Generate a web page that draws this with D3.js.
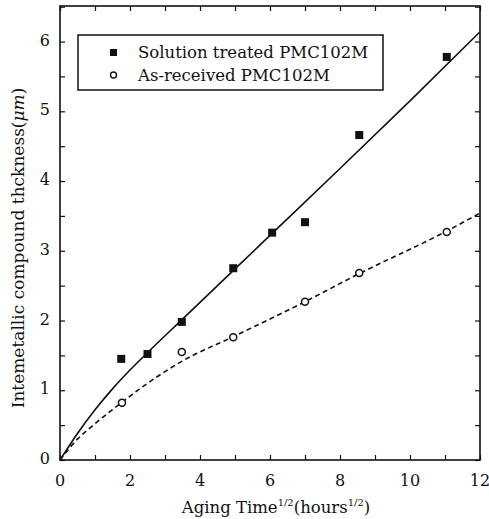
<!doctype html>
<html lang="en">
<head>
  <meta charset="utf-8">
  <title>Intermetallic compound thickness vs aging time</title>
  <style>
    html, body { margin: 0; padding: 0; background: white; }
    svg text { font-family: 'DejaVu Serif', serif; }
  </style>
</head>
<body>
  <div id="chart"></div>
  <script src="https://d3js.org/d3.v7.min.js"></script>
  <script>
    // measured points, x = sqrt(aging time in hours)
    const solutionX = [1.75, 2.5, 3.48, 4.95, 6.06, 7.0, 8.55, 11.05];
    const solutionY = [1.45, 1.52, 1.98, 2.75, 3.26, 3.41, 4.66, 5.78];
    const receivedX = [1.77, 3.48, 4.95, 7.0, 8.55, 11.05];
    const receivedY = [0.82, 1.55, 1.76, 2.27, 2.68, 3.27];

    // fitted curves
    const solutionFitX = [0, 0.5, 1, 1.5, 2, 2.5, 3.5, 5, 6, 8, 10, 12];
    const solutionFitY = [0, 0.38, 0.72, 1.02, 1.29, 1.54, 2.02, 2.74, 3.22, 4.18, 5.15, 6.14];
    const receivedFitX = [0, 0.5, 1, 1.75, 2.5, 3.5, 5, 7, 8.5, 11, 12];
    const receivedFitY = [0, 0.3, 0.52, 0.82, 1.1, 1.42, 1.78, 2.27, 2.66, 3.27, 3.54];

    const xTicks = [0, 2, 4, 6, 8, 10, 12];
    const yTicks = [0, 1, 2, 3, 4, 5, 6];
    const legendLabels = ["Solution treated PMC102M", "As-received PMC102M"];

    const width = 489, height = 519;
    const margin = { top: 6, right: 9, bottom: 59, left: 60 };

    const svg = d3.select("#chart").append("svg")
      .attr("width", width)
      .attr("height", height);

    const x = d3.scaleLinear().domain([0, 12]).range([margin.left, width - margin.right]);
    const y = d3.scaleLinear().domain([0, 6.51]).range([height - margin.bottom, margin.top]);

    const x0 = margin.left, x1 = width - margin.right;
    const y0 = height - margin.bottom, y1 = margin.top;

    // ticks on all four sides, pointing inward
    const minorX = d3.range(0, 12.01, 1);
    const minorY = d3.range(0, 6.51, 0.5);

    const bottomAxis = svg.append("g").attr("transform", `translate(0,${y0})`)
      .call(d3.axisTop(x).tickValues(minorX).tickSize(5).tickFormat(""));
    const topAxis = svg.append("g").attr("transform", `translate(0,${y1})`)
      .call(d3.axisBottom(x).tickValues(minorX).tickSize(5).tickFormat(""));
    const leftAxis = svg.append("g").attr("transform", `translate(${x0},0)`)
      .call(d3.axisRight(y).tickValues(minorY).tickSize(5).tickFormat(""));
    const rightAxis = svg.append("g").attr("transform", `translate(${x1},0)`)
      .call(d3.axisLeft(y).tickValues(minorY).tickSize(5).tickFormat(""));
    [bottomAxis, topAxis, leftAxis, rightAxis].forEach(g => {
      g.select(".domain").remove();
      g.selectAll("line").attr("stroke", "#111").attr("stroke-width", 1.2);
    });

    // tick labels
    svg.append("g").selectAll("text").data(xTicks).join("text")
      .attr("x", d => x(d))
      .attr("y", y0 + 26)
      .attr("text-anchor", "middle")
      .attr("font-size", 16)
      .attr("fill", "#111")
      .text(d => d);
    svg.append("g").selectAll("text").data(yTicks).join("text")
      .attr("x", x0 - 10)
      .attr("y", d => y(d) + 4)
      .attr("text-anchor", "end")
      .attr("font-size", 16)
      .attr("fill", "#111")
      .text(d => d);

    // frame
    svg.append("rect")
      .attr("x", x0).attr("y", y1)
      .attr("width", x1 - x0).attr("height", y0 - y1)
      .attr("fill", "none").attr("stroke", "#111").attr("stroke-width", 1.6);

    // fit curves
    const line = d3.line().x(d => x(d[0])).y(d => y(d[1])).curve(d3.curveMonotoneX);
    svg.append("path")
      .datum(d3.zip(solutionFitX, solutionFitY))
      .attr("d", line)
      .attr("fill", "none").attr("stroke", "#111").attr("stroke-width", 1.6);
    svg.append("path")
      .datum(d3.zip(receivedFitX, receivedFitY))
      .attr("d", line)
      .attr("fill", "none").attr("stroke", "#111").attr("stroke-width", 1.6)
      .attr("stroke-dasharray", "5,3.5");

    // markers
    svg.append("g").selectAll("rect").data(d3.zip(solutionX, solutionY)).join("rect")
      .attr("x", d => x(d[0]) - 4).attr("y", d => y(d[1]) - 4)
      .attr("width", 8).attr("height", 8)
      .attr("fill", "#111");
    svg.append("g").selectAll("circle").data(d3.zip(receivedX, receivedY)).join("circle")
      .attr("cx", d => x(d[0])).attr("cy", d => y(d[1]))
      .attr("r", 3.5)
      .attr("fill", "white").attr("stroke", "#111").attr("stroke-width", 1.5);

    // legend
    const legend = svg.append("g");
    legend.append("rect")
      .attr("x", 78).attr("y", 35).attr("width", 305).attr("height", 55)
      .attr("fill", "white").attr("stroke", "#111").attr("stroke-width", 1.5);
    legend.append("rect").attr("x", 110).attr("y", 49).attr("width", 7).attr("height", 7).attr("fill", "#111");
    legend.append("circle").attr("cx", 113.5).attr("cy", 75).attr("r", 3)
      .attr("fill", "white").attr("stroke", "#111").attr("stroke-width", 1.4);
    legend.selectAll("text.lg").data(legendLabels).join("text")
      .attr("class", "lg")
      .attr("x", 138)
      .attr("y", (d, i) => 58 + i * 23)
      .attr("font-size", 16.5)
      .attr("fill", "#111")
      .text(d => d);

    // axis titles
    const xt = svg.append("text")
      .attr("x", 276).attr("y", 513)
      .attr("text-anchor", "middle")
      .attr("font-size", 16.5)
      .attr("fill", "#111");
    xt.append("tspan").text("Aging Time");
    xt.append("tspan").attr("font-size", 10).attr("dy", -7).text("1/2");
    xt.append("tspan").attr("dy", 7).text("(hours");
    xt.append("tspan").attr("font-size", 10).attr("dy", -7).text("1/2");
    xt.append("tspan").attr("dy", 7).text(")");

    const yt = svg.append("text")
      .attr("transform", "translate(24,248) rotate(-90)")
      .attr("text-anchor", "middle")
      .attr("font-size", 17)
      .attr("fill", "#111");
    yt.append("tspan").text("Intemetallic compound thckness(");
    yt.append("tspan").attr("font-style", "italic").text("μm");
    yt.append("tspan").text(")");
  </script>
</body>
</html>
